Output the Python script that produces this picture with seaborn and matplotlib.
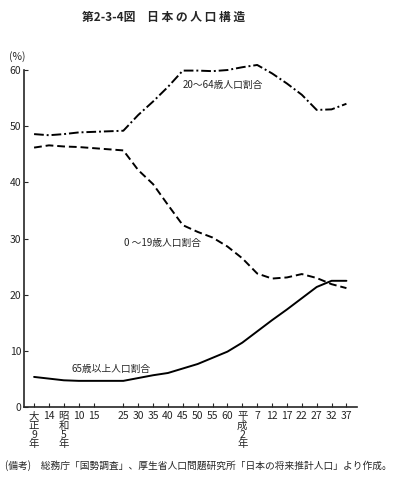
import matplotlib
matplotlib.use("Agg")
import matplotlib.pyplot as plt
import seaborn as sns
import pandas as pd

years = [1920, 1925, 1930, 1935, 1940, 1950, 1955, 1960, 1965, 1970, 1975, 1980,
         1985, 1990, 1995, 2000, 2005, 2010, 2015, 2020, 2025]
tick_labels = ["大\n正\n9\n年", "14", "昭\n和\n5\n年", "10", "15", "25", "30", "35", "40",
               "45", "50", "55", "60", "平\n成\n2\n年", "7", "12", "17", "22", "27", "32", "37"]
age_20_64 = [48.6, 48.4, 48.6, 48.9, 49.0, 49.2, 52.0, 54.4, 57.0, 59.9, 59.9, 59.8,
             60.0, 60.5, 60.9, 59.4, 57.6, 55.6, 52.9, 53.0, 54.0]
age_0_19 = [46.2, 46.6, 46.4, 46.3, 46.1, 45.7, 42.2, 39.7, 36.0, 32.4, 31.2, 30.2,
            28.6, 26.5, 23.8, 22.9, 23.1, 23.7, 23.0, 21.9, 21.2]
age_65 = [5.4, 5.1, 4.8, 4.7, 4.7, 4.7, 5.2, 5.7, 6.1, 6.9, 7.7, 8.8,
          9.9, 11.5, 13.5, 15.5, 17.4, 19.4, 21.4, 22.5, 22.5]

sns.set_style("ticks")
plt.rcParams["font.family"] = ["Noto Sans CJK JP", "DejaVu Sans"]

fig = plt.figure(figsize=(3.93, 4.87), dpi=100)
ax = fig.add_axes([0.061, 0.1637, 0.847, 0.6925])

sns.lineplot(x=years, y=age_20_64, ax=ax, color="black", lw=1.4,
             linestyle=(0, (5, 1.5, 1, 1.5)), clip_on=False)
sns.lineplot(x=years, y=age_0_19, ax=ax, color="black", lw=1.4,
             linestyle=(0, (4, 2)), clip_on=False)
sns.lineplot(x=years, y=age_65, ax=ax, color="black", lw=1.4, linestyle="-",
             clip_on=False)

ax.set_xlim(1916.6, 2028.5)
ax.set_ylim(0, 60)
ax.set_yticks([0, 10, 20, 30, 40, 50, 60])
ax.set_xticks(years)
ax.set_xticklabels(tick_labels, fontsize=7.5, linespacing=0.9, va="top")
ax.tick_params(axis="y", labelsize=7.5, direction="in", length=3, width=0.8, pad=2)
ax.tick_params(axis="x", direction="in", length=3, width=0.8, pad=3)
sns.despine(ax=ax)
for s in ["left", "bottom"]:
    ax.spines[s].set_linewidth(1.2)
ax.set_xlabel("")
ax.set_ylabel("")

fig.text(17 / 393, 1 - 57 / 487, "(%)", fontsize=7.5, ha="center", va="center")
ax.text(1983.5, 57.3, "20～64歳人口割合", fontsize=7, ha="center", va="center")
ax.text(1963.3, 29.2, "0 ～19歳人口割合", fontsize=7, ha="center", va="center")
ax.text(1946.0, 6.8, "65歳以上人口割合", fontsize=7, ha="center", va="center")

fig.text(0.415, 0.965, "第2-3-4図　日 本 の 人 口 構 造", fontsize=8.5,
         fontweight="bold", ha="center", va="center")
fig.text(0.012, 0.045, "(備考)　総務庁「国勢調査」、厚生省人口問題研究所「日本の将来推計人口」より作成。",
         fontsize=7, ha="left", va="center")

fig.savefig("out.png", dpi=100)
